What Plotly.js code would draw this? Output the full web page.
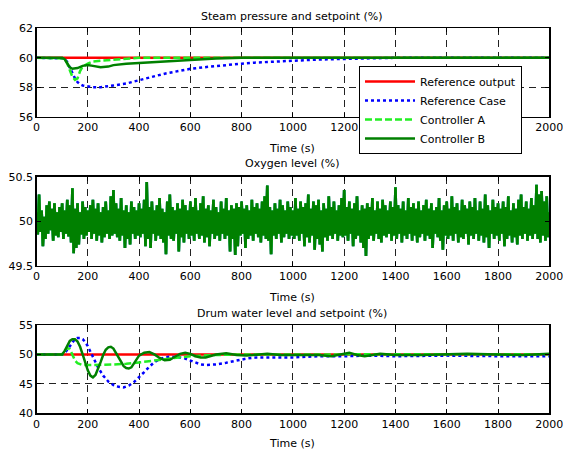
<!DOCTYPE html>
<html>
<head>
<meta charset="utf-8">
<script src="https://cdn.plot.ly/plotly-3.0.1.min.js"></script>
<style>html,body{margin:0;padding:0;background:#fff;}#chart{width:563px;height:454px;}</style>
</head>
<body>
<div id="chart"></div>
<script>
// ---------- Steam pressure (%) ----------
const steamRefT = [0, 2000];
const steamRefV = [60, 60];
const steamCaseT = [0,100,110,120,130,140,150,160,170,180,190,200,220,250,280,300,350,400,450,500,550,600,650,700,750,800,850,900,950,1000,1100,1200,1300,1400,1600,1800,2000];
const steamCaseV = [60,60,59.95,59.7,59.3,58.9,58.6,58.35,58.2,58.12,58.08,58.05,58.0,58.0,58.05,58.12,58.25,58.45,58.7,58.92,59.1,59.25,59.35,59.45,59.52,59.6,59.67,59.72,59.78,59.83,59.88,59.92,59.97,60.0,60.0,60.0,60.0];
const steamAT = [0,100,110,120,130,140,150,160,170,180,200,220,250,300,350,400,500,600,800,1000,1500,2000];
const steamAV = [60,60,59.95,59.6,59.1,58.7,58.5,58.6,59.1,59.4,59.6,59.75,59.8,59.88,59.95,60,60,60,60.02,60,60,60];
const steamBT = [0,100,110,120,130,140,160,180,200,220,250,280,300,350,400,450,500,600,700,800,1000,1500,2000];
const steamBV = [60,60,59.9,59.6,59.35,59.25,59.3,59.45,59.5,59.45,59.35,59.4,59.5,59.6,59.65,59.75,59.8,59.88,59.95,60,60,60,60];

// ---------- Oxygen level (%) : one value every 5 s ----------
const oxyT0 = 0, oxyDt = 5;
const oxyV = [
50.10,49.85,50.30,49.88,50.12,49.72,50.05,49.80,50.18,49.86,50.22,49.90,50.14,49.78,50.20,49.84,50.10,49.82,50.16,49.88,
50.20,49.80,50.12,49.86,50.24,49.83,50.18,49.76,50.37,49.64,50.14,49.70,50.20,49.74,50.10,49.85,50.22,49.80,50.16,49.84,
50.12,49.88,50.18,49.80,50.24,49.86,50.14,49.78,50.20,49.84,50.10,49.76,50.16,49.82,50.22,49.86,50.12,49.80,50.28,49.84,
50.35,49.86,50.20,49.82,50.14,49.78,50.26,49.84,50.12,49.70,50.18,49.80,50.10,49.74,50.22,49.86,50.16,49.80,50.12,49.84,
50.20,49.82,50.14,49.86,50.24,49.72,50.44,49.80,50.16,49.70,50.22,49.86,50.12,49.78,50.18,49.84,50.26,49.80,50.14,49.76,
50.10,49.63,50.22,49.84,50.30,49.80,50.16,49.78,50.12,49.86,50.20,49.66,50.14,49.82,50.24,49.76,50.18,49.86,50.12,49.80,
50.22,49.84,50.16,49.78,50.26,49.86,50.12,49.80,50.20,49.84,50.28,49.76,50.14,49.82,50.18,49.72,50.12,49.86,50.24,49.80,
50.16,49.84,50.10,49.78,50.22,49.86,50.14,49.80,50.26,49.84,50.12,49.66,50.18,49.80,50.14,49.62,50.20,49.72,50.16,49.84,
50.22,49.86,50.14,49.70,50.18,49.80,50.12,49.84,50.24,49.78,50.16,49.86,50.20,49.82,50.14,49.76,50.22,49.84,50.28,49.80,
50.40,49.78,50.16,49.63,50.12,49.84,50.20,49.80,50.14,49.86,50.24,49.76,50.18,49.82,50.12,49.86,50.22,49.80,50.16,49.84,
50.12,49.80,50.26,49.84,50.14,49.78,50.22,49.86,50.16,49.72,50.20,49.82,50.30,49.76,50.14,49.84,50.22,49.68,50.18,49.80,
50.24,49.74,50.12,49.66,50.20,49.82,50.14,49.78,50.28,49.84,50.16,49.80,50.22,49.86,50.12,49.78,50.18,49.84,50.26,49.82,
50.35,49.84,50.16,49.78,50.22,49.86,50.14,49.72,50.20,49.80,50.28,49.84,50.12,49.76,50.18,49.70,50.14,49.61,50.20,49.80,
50.16,49.84,50.26,49.78,50.12,49.86,50.22,49.80,50.14,49.76,50.24,49.84,50.18,49.82,50.12,49.86,50.22,49.78,50.16,49.84,
50.38,49.80,50.18,49.86,50.14,49.76,50.22,49.84,50.12,49.80,50.26,49.86,50.16,49.78,50.20,49.84,50.14,49.76,50.22,49.82,
50.12,49.86,50.18,49.78,50.24,49.84,50.14,49.80,50.20,49.70,50.12,49.86,50.16,49.82,50.26,49.78,50.12,49.68,50.18,49.84,
50.22,49.80,50.14,49.84,50.28,49.78,50.16,49.86,50.20,49.76,50.12,49.82,50.24,49.80,50.18,49.86,50.14,49.74,50.22,49.84,
50.16,49.80,50.26,49.86,50.12,49.78,50.22,49.84,50.14,49.76,50.30,49.82,50.18,49.70,50.12,49.86,50.24,49.80,50.16,49.84,
50.20,49.78,50.14,49.86,50.22,49.72,50.16,49.80,50.28,49.84,50.12,49.76,50.20,49.82,50.14,49.74,50.24,49.84,50.30,49.80,
50.16,49.86,50.22,49.78,50.14,49.84,50.26,49.80,50.18,49.86,50.41,49.80,50.30,49.76,50.34,49.84,50.22,49.78,50.28,49.82,
50.10];
const oxyRefV = [50, 50];

// ---------- Drum water level (%) ----------
const drumRefT = [0, 2000];
const drumRefV = [50, 50];
const drumCaseT = [0,100,110,120,130,140,150,160,170,180,190,200,220,240,260,280,300,320,340,350,360,380,400,420,440,460,480,500,520,540,560,580,600,620,640,660,680,700,740,780,820,860,900,950,1000,1050,1100,1200,1300,1400,1600,1800,2000];
const drumCaseV = [50,50,50.2,50.8,51.5,52.1,52.6,52.8,52.8,52.6,52.1,51.4,49.6,47.8,46.4,45.4,44.8,44.5,44.4,44.5,44.7,45.3,46.1,47.0,47.9,48.7,49.2,49.5,49.6,49.6,49.5,49.3,49.0,48.6,48.3,48.2,48.2,48.3,48.6,49.0,49.3,49.5,49.5,49.4,49.5,49.6,49.7,49.7,49.8,49.7,49.8,49.7,49.7];
const drumAT = [0,100,110,120,130,140,150,160,170,180,200,250,300,350,400,450,500,550,600,700,800,1000,1500,2000];
const drumAV = [50,50,50.6,51.1,50.9,50.0,49.0,48.5,48.3,48.2,48.2,48.2,48.3,48.4,48.6,48.9,49.2,49.5,49.7,49.9,50,50,50,50.05];
const drumBT = [0,100,110,120,130,140,150,160,170,180,190,200,210,220,230,240,250,260,270,280,290,300,310,320,330,340,350,360,370,380,390,400,420,440,460,480,500,520,540,560,580,600,620,640,660,680,700,740,780,820,860,900,950,1000,1100,1150,1200,1220,1250,1280,1340,1400,1500,1600,1680,1800,1900,2000];
const drumBV = [50,50,50.6,51.6,52.3,52.6,52.6,52.2,51.3,50.0,48.6,47.3,46.4,46.1,46.5,47.5,48.7,49.9,50.8,51.2,51.3,51.0,50.3,49.5,48.7,48.0,47.7,47.6,47.8,48.4,49.2,49.8,50.3,50.4,50.0,49.4,49.0,49.1,49.6,50.1,50.3,50.1,49.7,49.5,49.5,49.8,50.0,50.2,49.9,49.8,49.9,50.1,49.9,49.9,49.9,49.7,50.2,50.3,49.9,49.7,50.1,49.9,49.9,50.0,50.1,50.0,49.9,50.1];

// ---------- Text ----------
const seriesNames = ["Reference output", "Reference Case", "Controller A", "Controller B"];
const panelTitles = ["Steam pressure and setpoint (%)", "Oxygen level (%)", "Drum water level and setpoint (%)"];
const xLabel = "Time (s)";
const xTicks = [0,200,400,600,800,1000,1200,1400,1600,1800,2000];
const yTicks1 = [56,58,60,62], yTicks2 = [49.5,50,50.5], yTicks3 = [40,45,50,55];

const oxyT = oxyV.map((v, i) => oxyT0 + i * oxyDt);

const styles = [
  {color: '#ff0000', width: 2.5, dash: 'solid'},
  {color: '#0000ff', width: 2.5, dash: 'dot'},
  {color: '#22ee22', width: 2.5, dash: '7px,3px'},
  {color: '#008000', width: 2.5, dash: 'solid'}
];

function tr(x, y, k, axis, legend) {
  return {x: x, y: y, type: 'scatter', mode: 'lines', name: seriesNames[k],
    line: styles[k], xaxis: 'x' + axis, yaxis: 'y' + axis, showlegend: legend, legendgroup: 'g' + k};
}

const data = [
  tr(steamRefT, steamRefV, 0, '', true),
  tr(steamCaseT, steamCaseV, 1, '', true),
  tr(steamAT, steamAV, 2, '', true),
  tr(steamBT, steamBV, 3, '', true),
  tr([0, 2000], oxyRefV, 0, '2', false),
  tr(oxyT, oxyV, 1, '2', false),
  tr(oxyT, oxyV, 2, '2', false),
  tr(oxyT, oxyV, 3, '2', false),
  tr(drumRefT, drumRefV, 0, '3', false),
  tr(drumCaseT, drumCaseV, 1, '3', false),
  tr(drumAT, drumAV, 2, '3', false),
  tr(drumBT, drumBV, 3, '3', false)
];
data[5].line = Object.assign({}, styles[1], {dash: 'solid', width: 2.6});
data[6].line = Object.assign({}, styles[2], {dash: 'solid', width: 2.6});
data[7].line = Object.assign({}, styles[3], {width: 2.6});

const W = 563, H = 454;
const xDom = [36.5 / W, 549.3 / W];
const font = {family: 'DejaVu Sans, sans-serif', size: 11, color: '#000'};

function xax(anchor) {
  return {domain: xDom, range: [0, 2000], tickvals: xTicks, anchor: anchor,
    showline: true, linecolor: '#000', linewidth: 1.3, mirror: 'ticks', ticks: 'inside', ticklen: 4, tickcolor: '#000',
    showgrid: true, gridcolor: '#222', gridwidth: 1, griddash: '7px,5px', zeroline: false, automargin: false,
    ticklabeloverflow: 'allow', tickfont: font};
}
function yax(dom, range, tv, anchor) {
  return {domain: dom, range: range, tickvals: tv, anchor: anchor,
    showline: true, linecolor: '#000', linewidth: 1.3, mirror: 'ticks', ticks: 'inside', ticklen: 4, tickcolor: '#000',
    showgrid: true, gridcolor: '#222', gridwidth: 1, griddash: '7px,5px', zeroline: false, automargin: false,
    ticklabeloverflow: 'allow', tickfont: font};
}
const yd = (top, bot) => [1 - bot / H, 1 - top / H];

const layout = {
  width: W, height: H,
  margin: {l: 0, r: 0, t: 0, b: 0},
  paper_bgcolor: '#fff', plot_bgcolor: '#fff',
  font: font,
  showlegend: true,
  legend: {x: 359 / W, y: 1 - 66 / H, xanchor: 'left', yanchor: 'top',
    bgcolor: '#fff', bordercolor: '#000', borderwidth: 1, font: {family: font.family, size: 11, color: '#000'},
    tracegroupgap: 0, itemwidth: 50},
  xaxis: xax('y'),
  yaxis: yax(yd(28.3, 116.7), [56, 62], yTicks1, 'x'),
  xaxis2: xax('y2'),
  yaxis2: yax(yd(176.7, 265.7), [49.5, 50.5], yTicks2, 'x2'),
  xaxis3: xax('y3'),
  yaxis3: yax(yd(325, 413.3), [40, 55], yTicks3, 'x3'),
  annotations: [
    {text: panelTitles[0], x: 292 / W, y: 1 - 16 / H},
    {text: panelTitles[1], x: 292 / W, y: 1 - 164 / H},
    {text: panelTitles[2], x: 292 / W, y: 1 - 313 / H},
    {text: xLabel, x: 292 / W, y: 1 - 148 / H},
    {text: xLabel, x: 292 / W, y: 1 - 297 / H},
    {text: xLabel, x: 292 / W, y: 1 - 443 / H}
  ].map(a => Object.assign({xref: 'paper', yref: 'paper', xanchor: 'center', yanchor: 'middle', showarrow: false, font: font}, a))
};

Plotly.newPlot('chart', data, layout, {displayModeBar: false, staticPlot: true});
</script>
</body>
</html>
